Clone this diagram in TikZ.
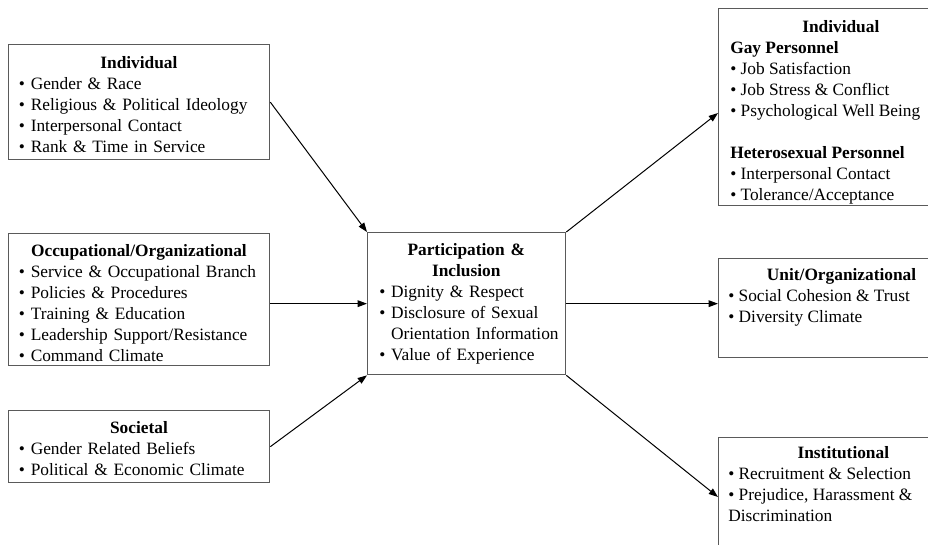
\documentclass[tikz,border=0pt]{standalone}
\usepackage{fontspec}
\setmainfont{Liberation Serif}
\usetikzlibrary{arrows.meta, positioning}
\definecolor{cframe}{HTML}{5A5A5A}
\tikzset{
  every picture/.style={x=0.75pt, y=-0.75pt},
  frame/.style={draw=cframe, line width=1pt, inner sep=0pt, anchor=north west},
  txt/.style={inner sep=0pt, align=left, font=\fontsize{13}{15.75}\selectfont},
  link/.style={-{Triangle[length=7pt, width=5pt]}, line width=0.75pt},
}

\begin{document}
\begin{tikzpicture}
  \clip (0,0) rectangle (928,544);
  % antecedents on the left
  \node[frame, minimum width=195.75pt, minimum height=86.25pt] (indL) at (8,44) {};
  \node[txt, text width=180pt, below right=9pt and 8pt of indL.north west] (indLt) {%
    {\centering\textbf{Individual}\par}
    • Gender \& Race\\
    • Religious \& Political Ideology\\
    • Interpersonal Contact\\
    • Rank \& Time in Service};
  \node[frame, minimum width=195.75pt, minimum height=99pt] (occL) at (8,233) {};
  \node[txt, text width=180pt, below right=8.25pt and 8pt of occL.north west] (occLt) {%
    {\centering\textbf{Occupational/Organizational}\par}
    \mbox{• Service \& Occupational Branch}\\
    • Policies \& Procedures\\
    • Training \& Education\\
    \mbox{• Leadership Support/Resistance}\\
    • Command Climate};
  \node[frame, minimum width=195.75pt, minimum height=54pt] (socL) at (8,410) {};
  \node[txt, text width=180pt, below right=8.25pt and 8pt of socL.north west] (socLt) {%
    {\centering\textbf{Societal}\par}
    • Gender Related Beliefs\\
    • Political \& Economic Climate};
  % central construct
  \node[frame, minimum width=148.5pt, minimum height=106.5pt] (centre) at (367,232) {};
  \node[txt, text width=130.5pt, below right=8.25pt and 9pt of centre.north west] (centret) {%
    {\centering\textbf{Participation \&\\Inclusion}\par}
    • Dignity \& Respect\\
    • Disclosure of Sexual\\
    \mbox{\phantom{• }Orientation Information}\\
    • Value of Experience};
  % outcomes on the right
  \node[frame, minimum width=211.5pt, minimum height=147.75pt] (indR) at (718,8) {};
  \node[txt, below right=9pt and 9pt of indR.north west] (indRt) {%
    \hspace*{54pt}\textbf{Individual}\\
    \textbf{Gay Personnel}\\
    • Job Satisfaction\\
    • Job Stress \& Conflict\\
    • Psychological Well Being\\[15.75pt]
    \textbf{Heterosexual Personnel}\\
    • Interpersonal Contact\\
    • Tolerance/Acceptance};
  \node[frame, minimum width=211.5pt, minimum height=74.25pt] (unitR) at (718,258) {};
  \node[txt, below right=7.5pt and 7.5pt of unitR.north west] (unitRt) {%
    \hspace*{29pt}\textbf{Unit/Organizational}\\
    • Social Cohesion \& Trust\\
    • Diversity Climate};
  \node[frame, minimum width=211.5pt, minimum height=92.25pt] (instR) at (718,437) {};
  \node[txt, below right=6.75pt and 7.5pt of instR.north west] (instRt) {%
    \hspace*{52pt}\textbf{Institutional}\\
    • Recruitment \& Selection\\
    • Prejudice, Harassment \&\\
    Discrimination};
  % arrows
  \draw[link] (indL.east) -- (centre.north west);
  \draw[link] (occL.east |- centre.west) -- (centre.west);
  \draw[link] (socL.east) -- (centre.south west);
  \draw[link] (centre.north east) -- ([yshift=-78.75pt]indR.north west);
  \draw[link] (centre.east) -- (centre.east -| unitR.west);
  \draw[link] (centre.south east) -- ([yshift=-45pt]instR.north west);
\end{tikzpicture}
\end{document}
